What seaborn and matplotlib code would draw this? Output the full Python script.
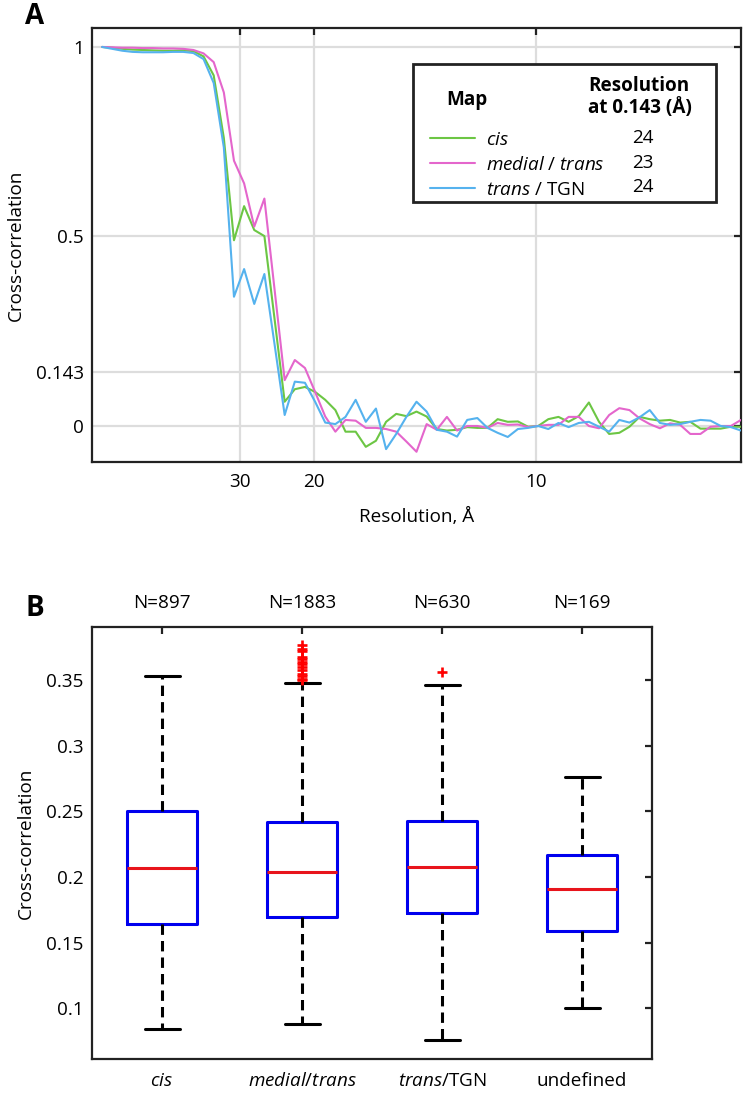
import numpy as np
import pandas as pd
import matplotlib
matplotlib.use("Agg")
import matplotlib.pyplot as plt
import seaborn as sns
from matplotlib.patches import Rectangle
from matplotlib.lines import Line2D

# ---------------- data: panel A (FSC-like cross-correlation curves) ----------------
shell = np.arange(1, 65)
pixel_size = 3.42
box_size = 128
freq = shell / (box_size * pixel_size)

cc_cis = [1.000, 0.998, 0.995, 0.993, 0.992, 0.991, 0.990, 0.990, 0.991, 0.989,
          0.975, 0.925, 0.760, 0.490, 0.580, 0.517, 0.501, 0.283, 0.064, 0.097,
          0.103, 0.090, 0.069, 0.042, -0.015, -0.015, -0.055, -0.039, 0.011, 0.032,
          0.026, 0.038, 0.025, -0.008, -0.012, -0.010, -0.003, -0.005, -0.005, 0.018,
          0.011, 0.012, -0.002, 0.000, 0.018, 0.024, 0.011, 0.026, 0.062, 0.011,
          -0.021, -0.018, -0.002, 0.024, 0.018, 0.014, 0.016, 0.009, 0.011, -0.007,
          -0.007, -0.007, -0.002, -0.002]
cc_medial = [1.000, 0.999, 0.998, 0.998, 0.997, 0.997, 0.996, 0.996, 0.995, 0.992,
             0.983, 0.960, 0.880, 0.700, 0.640, 0.526, 0.600, 0.361, 0.121, 0.174,
             0.153, 0.090, 0.025, -0.015, 0.016, 0.014, -0.005, -0.005, -0.008, -0.015,
             -0.041, -0.068, 0.005, -0.010, 0.024, -0.012, 0.000, 0.000, -0.005, 0.008,
             0.003, 0.004, -0.003, 0.000, 0.003, 0.003, 0.024, 0.024, 0.000, -0.006,
             0.029, 0.047, 0.042, 0.020, 0.005, -0.006, 0.007, 0.003, -0.021, -0.021,
             -0.002, 0.000, 0.000, 0.016]
cc_tgn = [1.000, 0.995, 0.990, 0.987, 0.986, 0.986, 0.986, 0.987, 0.987, 0.984,
          0.968, 0.905, 0.735, 0.341, 0.414, 0.322, 0.401, 0.216, 0.029, 0.117,
          0.114, 0.064, 0.009, 0.005, 0.024, 0.069, 0.011, 0.046, -0.061, -0.021,
          0.024, 0.064, 0.038, -0.010, -0.015, -0.028, 0.016, 0.021, -0.005, -0.018,
          -0.029, -0.008, -0.005, 0.000, -0.008, 0.008, -0.003, 0.008, 0.011, -0.002,
          -0.015, 0.016, 0.009, 0.023, 0.042, 0.008, 0.003, 0.005, 0.011, 0.016,
          0.014, 0.000, -0.003, -0.012]

map_names = ["cis", "medial / trans", "trans / TGN"]
map_labels = [r"$\it{cis}$", r"$\it{medial}$ / $\it{trans}$", r"$\it{trans}$ / TGN"]
map_resolution = [24, 23, 24]
map_colors = ["#6cc644", "#e466cc", "#55b2ee"]

res_ticks = [30, 20, 10]
cc_ticks = [0, 0.143, 0.5, 1]
cc_ticklabels = ["0", "0.143", "0.5", "1"]

# ---------------- data: panel B (box plot statistics) ----------------
groups = ["cis", "medial/trans", "trans/TGN", "undefined"]
group_labels = [r"$\it{cis}$", r"$\it{medial/trans}$", r"$\it{trans}$/TGN", "undefined"]
group_n = [897, 1883, 630, 169]
whisker_low = [0.084, 0.088, 0.076, 0.100]
q1 = [0.164, 0.170, 0.173, 0.159]
median = [0.207, 0.204, 0.208, 0.191]
q3 = [0.250, 0.242, 0.243, 0.217]
whisker_high = [0.353, 0.348, 0.346, 0.276]
outliers = [[],
            [0.350, 0.351, 0.353, 0.355, 0.358, 0.360, 0.362, 0.364, 0.366, 0.368,
             0.372, 0.374, 0.377],
            [0.356],
            []]
box_ticks = [0.1, 0.15, 0.2, 0.25, 0.3, 0.35]
box_ticklabels = ["0.1", "0.15", "0.2", "0.25", "0.3", "0.35"]

# ---------------- style ----------------
sns.set_theme(style="white")
FONT = "Open Sans"
plt.rcParams["font.family"] = [FONT, "DejaVu Sans"]
plt.rcParams["mathtext.fontset"] = "custom"
plt.rcParams["mathtext.rm"] = FONT
plt.rcParams["mathtext.it"] = FONT + ":italic"
plt.rcParams["mathtext.bf"] = FONT + ":bold"
plt.rcParams["text.color"] = "black"
plt.rcParams["axes.labelcolor"] = "black"
FS = 13.6
SPINE = "#222222"

W, H = 749, 1101
fig = plt.figure(figsize=(W / 100, H / 100), dpi=100)


def px_axes(l, t, r, b):
    return fig.add_axes([l / W, 1 - b / H, (r - l) / W, (b - t) / H])


def style_axes(ax):
    for s in ax.spines.values():
        s.set_color(SPINE)
        s.set_linewidth(1.6)
        s.set_visible(True)
    ax.tick_params(direction="in", length=5, width=1.6, color=SPINE,
                   top=True, right=True, labelsize=FS, labelcolor="black",
                   pad=6)


def ax_xy(box, x, y):
    l, t, r, b = box
    return (x - l) / (r - l), (b - y) / (b - t)


# ---------------- panel A ----------------
A_BOX = (92, 28, 741, 462)
axA = px_axes(*A_BOX)
df = pd.DataFrame({
    "freq": np.concatenate([freq, freq, freq]),
    "cc": np.concatenate([cc_cis, cc_medial, cc_tgn]),
    "map": np.repeat(map_names, len(freq)),
})
sns.lineplot(data=df, x="freq", y="cc", hue="map", hue_order=map_names,
             palette=map_colors, linewidth=1.5, legend=False, ax=axA, zorder=3)
axA.set_xlim(0, 64 / (box_size * pixel_size))
axA.set_ylim(-0.095, 1.05)
axA.set_xticks([1 / r for r in res_ticks])
axA.set_xticklabels([str(r) for r in res_ticks])
axA.set_yticks(cc_ticks)
axA.set_yticklabels(cc_ticklabels)
axA.grid(True, color="#dddddd", linewidth=1.6)
axA.set_axisbelow(True)
style_axes(axA)
axA.tick_params(axis="x", pad=8)
axA.set_xlabel("Resolution, Å", fontsize=FS, labelpad=12)
axA.set_ylabel("Cross-correlation", fontsize=FS, labelpad=8)

# legend box
fx0, fy0 = ax_xy(A_BOX, 413, 202)
fx1, fy1 = ax_xy(A_BOX, 716, 64)
axA.add_patch(Rectangle((fx0, fy0), fx1 - fx0, fy1 - fy0, transform=axA.transAxes,
                        facecolor="white", edgecolor=SPINE, linewidth=2, zorder=5))
handles = [Line2D([], [], color=c, linewidth=1.5) for c in map_colors]
lx, ly = ax_xy(A_BOX, 430, 131)
leg = axA.legend(handles, map_labels, loc="upper left", bbox_to_anchor=(lx, ly),
                 frameon=False, fontsize=FS, handlelength=2.4, handletextpad=0.55,
                 labelspacing=0.36, borderpad=0, borderaxespad=0)
leg.set_zorder(6)
mx, my = ax_xy(A_BOX, 467, 100)
axA.text(mx, my, "Map", transform=axA.transAxes, fontsize=FS, fontweight="bold",
         ha="center", va="center", zorder=7)
rx, ry = ax_xy(A_BOX, 588, 97)
axA.text(rx, ry, "Resolution\nat 0.143 (Å)", transform=axA.transAxes, fontsize=FS,
         fontweight="bold", ha="left", va="center", linespacing=1.15, zorder=7)
for res, yy in zip(map_resolution, [138, 163, 187]):
    vx, vy = ax_xy(A_BOX, 643, yy)
    axA.text(vx, vy, str(res), transform=axA.transAxes, fontsize=FS,
             ha="center", va="center", zorder=7)

fig.text(25 / W, 1 - 17 / H, "A", fontsize=20, fontweight="bold", ha="left", va="center")

# ---------------- panel B ----------------
B_BOX = (92, 627, 652, 1059)
axB = px_axes(*B_BOX)
stats = []
for i, g in enumerate(groups):
    stats.append(dict(label=g, whislo=whisker_low[i], q1=q1[i], med=median[i],
                      q3=q3[i], whishi=whisker_high[i], fliers=outliers[i]))
positions = np.arange(len(groups))
axB.bxp(stats, positions=positions, widths=0.5, manage_ticks=False,
        boxprops=dict(color="#0000ee", linewidth=2.2),
        medianprops=dict(color="#e8141c", linewidth=2.2),
        whiskerprops=dict(color="black", linewidth=2.2, linestyle=(0, (3.4, 2.0))),
        capprops=dict(color="black", linewidth=2.2),
        flierprops=dict(marker="+", markeredgecolor="#ff0000", markersize=6.5,
                        markeredgewidth=1.9, linestyle="none"))
axB.set_xlim(-0.5, len(groups) - 0.5)
axB.set_ylim(0.0615, 0.3905)
axB.set_xticks(positions)
axB.set_xticklabels(group_labels)
axB.set_yticks(box_ticks)
axB.set_yticklabels(box_ticklabels)
style_axes(axB)
axB.tick_params(axis="x", pad=9)
axB.set_ylabel("Cross-correlation", fontsize=FS, labelpad=8)
_, ny = ax_xy(B_BOX, 0, 603)
for p, n in zip(positions, group_n):
    axB.text(p, ny, f"N={n}", transform=axB.get_xaxis_transform(), fontsize=FS,
             ha="center", va="center")

fig.text(25 / W, 1 - 608 / H, "B", fontsize=20, fontweight="bold", ha="left", va="center")

fig.savefig("out.png", dpi=100, facecolor="white")
